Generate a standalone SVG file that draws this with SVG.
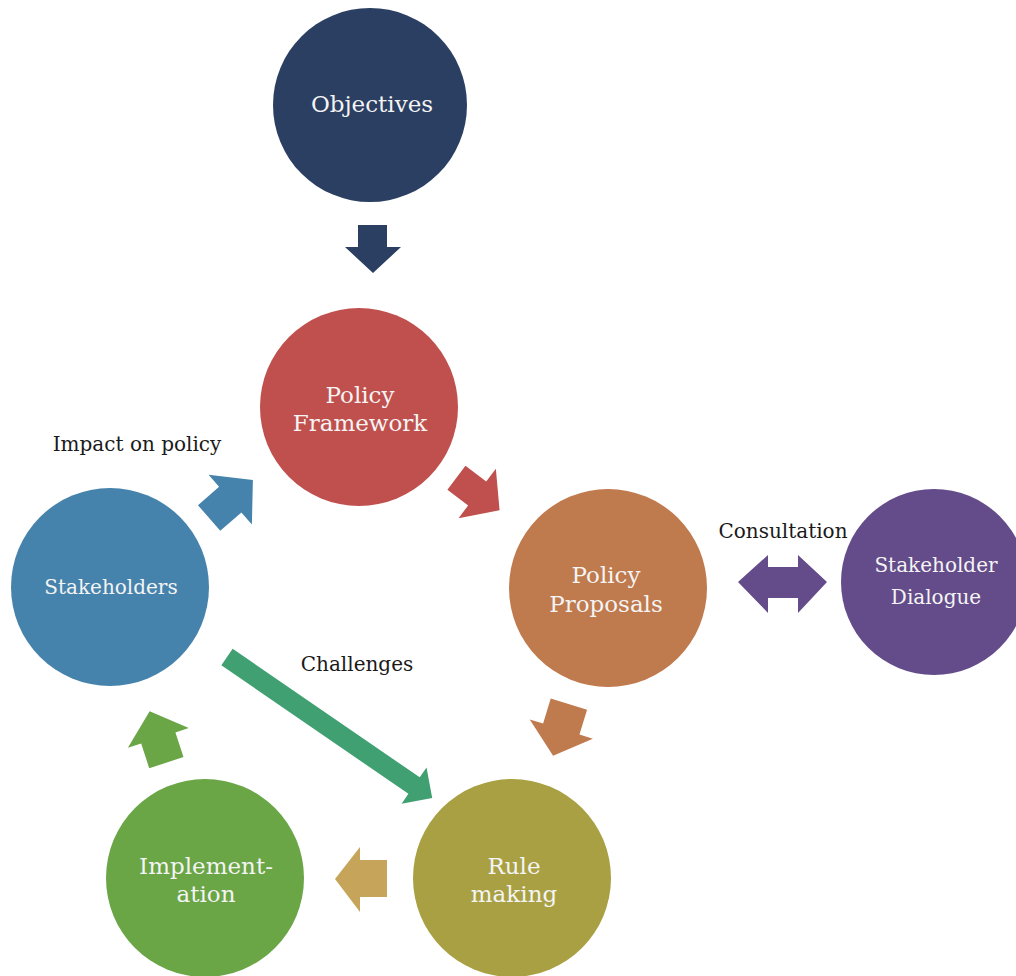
<svg xmlns="http://www.w3.org/2000/svg" width="1016" height="976" viewBox="0 0 1016 976">
<style>
.t{font-family:"DejaVu Serif","Liberation Serif",serif;font-size:20px;text-anchor:middle}
.l{font-size:23px}
.w{fill:#F4F4F4}
.b{fill:#1A1A1A}
</style>
<rect width="1016" height="976" fill="#FFFFFF"/>
<g id="connectors">
  <polygon fill="#2B3F62" points="358,225 387,225 387,247 401,247 373,273 345,247 358,247"/>
  <path fill="#C0504D" transform="translate(478,494) rotate(37)" d="M-27,-15 H-1 V-31 L27,0 L-1,31 V15 H-27 Z"/>
  <path fill="#4683AC" transform="translate(231,499) rotate(-41)" d="M-29,-17 H-1 V-33 L29,0 L-1,33 V17 H-29 Z"/>
  <polygon fill="#644C8A" points="738,582 768,555 768,567 798,567 798,555 827,582 798,613 798,598 768,598 768,613"/>
  <path fill="#BF7A4E" transform="translate(561,730) rotate(107)" d="M-27,-19 H-1 V-33 L27,0 L-1,33 V19 H-27 Z"/>
  <path fill="#6AA546" transform="translate(158,737) rotate(-108)" d="M-27,-18 H-1 V-32 L27,0 L-1,32 V18 H-27 Z"/>
  <polygon fill="#C6A459" points="335,879 360,847 360,860 387,860 387,897 360,897 360,912"/>
  <path fill="#41A072" transform="translate(227,657) rotate(34.5)" d="M0,-10 H227 V-22 L249,0 L227,22 V10 H0 Z"/>
</g>
<g id="objectives">
  <circle cx="370" cy="105" r="97" fill="#2B3F62"/>
  <text class="t l w" x="372" y="112">Objectives</text>
</g>
<g id="policy-framework">
  <circle cx="359" cy="407" r="99" fill="#C0504D"/>
  <text class="t l w" x="360" y="403">Policy</text>
  <text class="t l w" x="360" y="431">Framework</text>
</g>
<g id="policy-proposals">
  <circle cx="608" cy="588" r="99" fill="#BF7A4E"/>
  <text class="t l w" x="606" y="583">Policy</text>
  <text class="t l w" x="606" y="612">Proposals</text>
</g>
<g id="stakeholder-dialogue">
  <circle cx="934" cy="582" r="93" fill="#644C8A"/>
  <text class="t w" x="936" y="572">Stakeholder</text>
  <text class="t w" x="936" y="604">Dialogue</text>
</g>
<g id="stakeholders">
  <circle cx="110" cy="587" r="99" fill="#4683AC"/>
  <text class="t w" x="111" y="594">Stakeholders</text>
</g>
<g id="rule-making">
  <circle cx="512" cy="878" r="99" fill="#A9A043"/>
  <text class="t l w" x="514" y="874">Rule</text>
  <text class="t l w" x="514" y="902">making</text>
</g>
<g id="implementation">
  <circle cx="205" cy="878" r="99" fill="#6AA546"/>
  <text class="t l w" x="206" y="874">Implement-</text>
  <text class="t l w" x="206" y="902">ation</text>
</g>
<g id="labels">
  <text class="t b" x="137" y="451">Impact on policy</text>
  <text class="t b" x="783" y="538">Consultation</text>
  <text class="t b" x="357" y="671">Challenges</text>
</g>
</svg>
